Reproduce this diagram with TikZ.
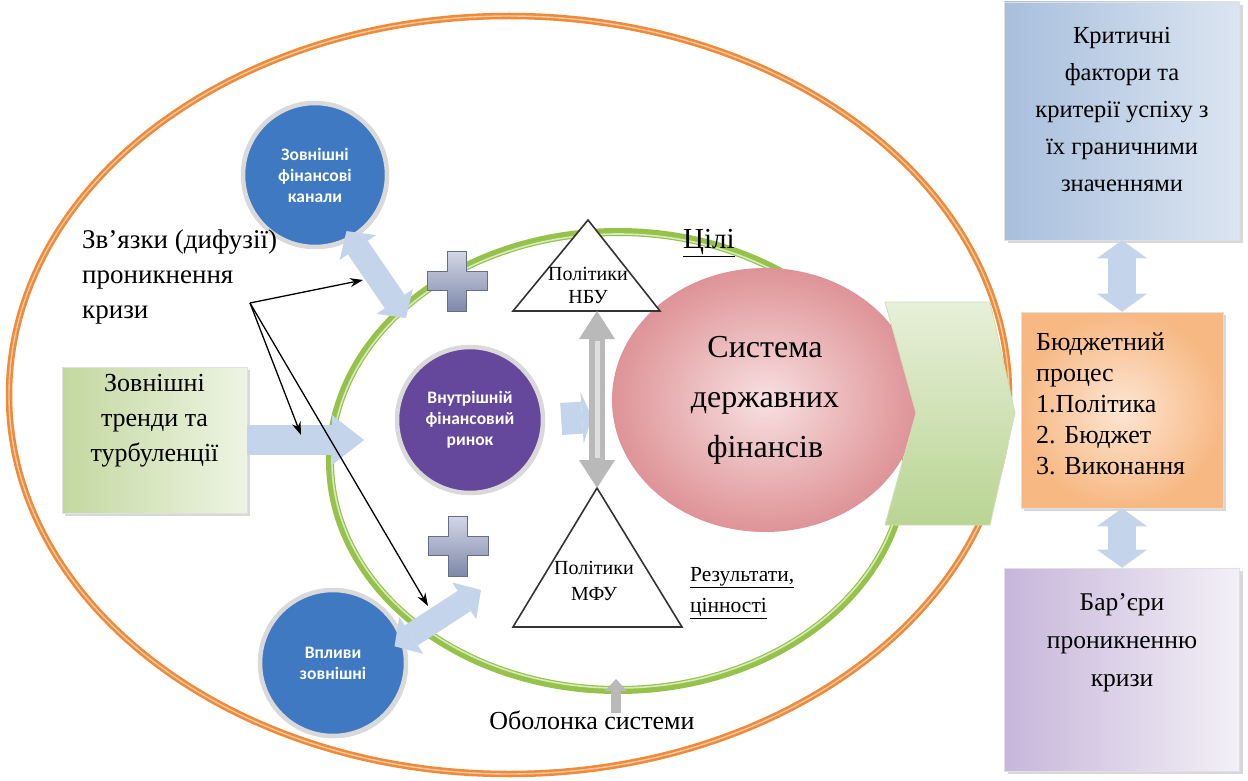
\documentclass[tikz,border=0pt]{standalone}
\usepackage{fontspec}
\setmainfont{Liberation Serif}
\newfontfamily\circfont{Carlito}
\usetikzlibrary{shapes.geometric,arrows.meta,shadows,calc}
\definecolor{orangeL}{HTML}{EE8A3A}
\definecolor{orangeLL}{HTML}{F8C9A0}
\definecolor{greenL}{HTML}{96C24C}
\definecolor{greenLL}{HTML}{D7EABB}
\definecolor{pinkO}{HTML}{DE9397}
\definecolor{pinkI}{HTML}{F8E0E1}
\definecolor{blueC}{HTML}{3E79C1}
\definecolor{purpC}{HTML}{65489B}
\definecolor{arrB}{HTML}{C3D4EB}
\definecolor{plusD}{HTML}{7E88AA}
\definecolor{plusL}{HTML}{D3D7E6}
\definecolor{critD}{HTML}{A8BFDD}
\definecolor{critL}{HTML}{DCE5F1}
\definecolor{budD}{HTML}{F7B883}
\definecolor{budL}{HTML}{FDE6D3}
\definecolor{barD}{HTML}{C7B6DA}
\definecolor{barL}{HTML}{F3F0F7}
\definecolor{trD}{HTML}{C3D8A0}
\definecolor{trL}{HTML}{EEF4E3}
\definecolor{chevD}{HTML}{B9D493}
\definecolor{chevL}{HTML}{E7F0D9}
\begin{document}
\begin{tikzpicture}[x=1pt,y=-1pt,
  txt/.style={inner sep=0pt, align=center, font=\fontsize{26}{35}\selectfont},
  circ/.style={circle, draw=gray!30, line width=4.5pt, inner sep=0pt, minimum size=144pt,
    text=white, align=center, font=\circfont\bfseries\fontsize{17.5}{21}\selectfont,
    drop shadow={opacity=0.3,shadow xshift=2pt,shadow yshift=-2pt}},
  panel/.style={rectangle, inner sep=0pt, draw=black!12, line width=0.6pt,
    drop shadow={opacity=0.3,shadow xshift=3pt,shadow yshift=-3pt}},
  blackarrow/.style={draw=black, line width=1.3pt, -{Stealth[length=13pt,width=9pt]}},
  tri/.style={draw=black!80, line width=1.6pt, fill=white},
  blue2/.style={line width=24pt, draw=arrB,
    {Triangle[length=20pt,width=44pt,line width=0pt]}-{Triangle[length=20pt,width=44pt,line width=0pt]}},
  plussign/.pic={\path[top color=plusL, bottom color=plusD, draw=plusD!80!black, line width=0.8pt]
    (-30,-9.5) -- (-9.5,-9.5) -- (-9.5,-30) -- (9.5,-30) -- (9.5,-9.5) -- (30,-9.5) -- (30,9.5)
    -- (9.5,9.5) -- (9.5,30) -- (-9.5,30) -- (-9.5,9.5) -- (-30,9.5) -- cycle;}
]
\useasboundingbox (0,0) rectangle (1248,781);
\fill[white] (0,0) rectangle (1248,781);

% outer and inner ellipses
\node[ellipse, draw=orangeL, line width=6.5pt, minimum width=1000pt, minimum height=758pt, inner sep=0pt] (outer) at (509,395) {};
\node[ellipse, draw=orangeLL, line width=1.4pt, minimum width=1000pt, minimum height=758pt, inner sep=0pt] at (outer.center) {};
\node[ellipse, draw=greenL, line width=8pt, minimum width=576pt, minimum height=458pt, inner sep=0pt] (shell) at (618,461) {};
\node[ellipse, draw=greenLL, line width=1.6pt, minimum width=572pt, minimum height=454pt, inner sep=0pt] at (shell.center) {};

% system circle
\node[ellipse, inner color=pinkI, outer color=pinkO, minimum width=306pt, minimum height=264pt, inner sep=0pt,
  align=center, font=\fontsize{32}{50}\selectfont] (sys) at (765,400) {Система\\державних\\фінансів};

% chevron
\path[top color=chevL, bottom color=chevD, draw=chevD!70!white, line width=0.8pt]
  (885,302) -- (990,302) -- (1015,413) -- (990,525) -- (885,525) -- (916,413) -- cycle;

% triangles
\draw[tri] (588,220) -- (660,311) -- (513,311) -- cycle;
\draw[tri] (597,488) -- (682,627) -- (513,627) -- cycle;
\coordinate (nbuB) at (597,311);
\coordinate (mfuA) at (597,488);
\node[inner sep=0pt, align=center, font=\fontsize{20}{23}\selectfont] (nbu) at (588,285) {Політики\\НБУ};
\node[inner sep=0pt, align=center, font=\fontsize{20}{26}\selectfont] (mfu) at (594,581) {Політики\\МФУ};

% circles
\node[circ, fill=blueC] (chan) at (315,175) {Зовнішні\\фінансові\\канали};
\node[circ, fill=purpC, minimum size=146pt] (ring) at (470,420) {Внутрішній\\фінансовий\\ринок};
\node[circ, fill=blueC, minimum size=146pt] (vpl) at (333,663) {Впливи\\зовнішні};

% left green box
\node[panel, left color=trD, right color=trL, minimum width=185pt, minimum height=146pt] (trends) at (154.5,440) {};
\node[txt] (trendsT) at (154.5,421) {Зовнішні\\тренди та\\турбуленції};

% right boxes
\node[panel, left color=critD, right color=critL, minimum width=235pt, minimum height=238pt] (crit) at (1122,121) {};
\node[txt, font=\fontsize{24.5}{37}\selectfont] (critT) at (1122,110) {Критичні\\фактори та\\критерії успіху з\\їх граничними\\значеннями};
\node[panel, inner color=budL, outer color=budD, minimum width=202pt, minimum height=196pt] (bud) at (1122,410) {};
\node[txt, align=left, font=\fontsize{26}{31}\selectfont, anchor=west] (budT) at (1036,404) {Бюджетний\\процес\\1.Політика\\2. Бюджет\\3. Виконання};
\node[panel, left color=barD, right color=barL, minimum width=235pt, minimum height=203pt] (bar) at (1122,669.5) {};
\node[txt, font=\fontsize{25.5}{38}\selectfont] (barT) at (1122,643) {Бар’єри\\проникненню\\кризи};

% block arrows
\coordinate (cEnd) at (406,318);
\coordinate (tEnd) at (364,440);
\coordinate (lEnd) at (481,590);
\coordinate (stubEnd) at (592,417);
\draw[blue2, shorten <=-10pt] (chan.-60) -- (cEnd);
\draw[line width=30pt, draw=arrB, -{Triangle[length=32pt,width=50pt,line width=0pt]}] (trends.east) -- (tEnd);
\draw[blue2, shorten <=-12pt] (vpl.18) -- (lEnd);
\draw[line width=32pt, draw=arrB, -{Triangle[length=10pt,width=52pt,line width=0pt]}, shorten <=16pt] (ring.east) -- (stubEnd);
\draw[line width=28pt, draw=arrB, {Triangle[length=18pt,width=50pt,line width=0pt]}-{Triangle[length=18pt,width=50pt,line width=0pt]}] (crit.south) -- (bud.north);
\draw[line width=28pt, draw=arrB, {Triangle[length=18pt,width=50pt,line width=0pt]}-{Triangle[length=18pt,width=50pt,line width=0pt]}] (bud.south) -- (bar.north);

% plus signs
\pic (plusA) at (457,281) {plussign};
\pic (plusB) at (458,546) {plussign};

% gray double arrow between policies
\draw[line width=16pt, draw=gray!55, {Triangle[length=28pt,width=36pt,line width=0pt]}-{Triangle[length=28pt,width=36pt,line width=0pt]}] (nbuB) -- (mfuA);
\draw[line width=5pt, draw=gray!25] ($(nbuB)+(0,30)$) -- ($(mfuA)+(0,-30)$);

% texts
\node[inner sep=0pt, font=\fontsize{29}{30}\selectfont] (goals) at (709,243) {\underline{Цілі}};
\node[inner sep=0pt, align=left, anchor=north west, font=\fontsize{21.5}{31}\selectfont] (res) at (690,567) {\underline{Результати,}\\\underline{цінності}};
\node[txt, anchor=north west, align=left, font=\fontsize{27}{35}\selectfont] (links) at (82,230) {Зв’язки (дифузії)\\проникнення\\кризи};
\node[inner sep=0pt, font=\fontsize{26}{28}\selectfont] (shellT) at (592,720) {Оболонка системи};

% small up arrow to shell
\coordinate (shB) at (616,713);
\coordinate (shT) at (616,679);
\draw[line width=10pt, draw=gray!55, -{Triangle[length=12pt,width=22pt,line width=0pt]}] (shB) -- (shT);

% black arrows
\coordinate (src) at (250,303);
\coordinate (tA) at (363,280);
\coordinate (tB) at (301,435);
\coordinate (tC) at (428,606);
\draw[blackarrow] (src) -- (tA);
\draw[blackarrow] (src) -- (tB);
\draw[blackarrow] (src) -- (tC);
\end{tikzpicture}
\end{document}
